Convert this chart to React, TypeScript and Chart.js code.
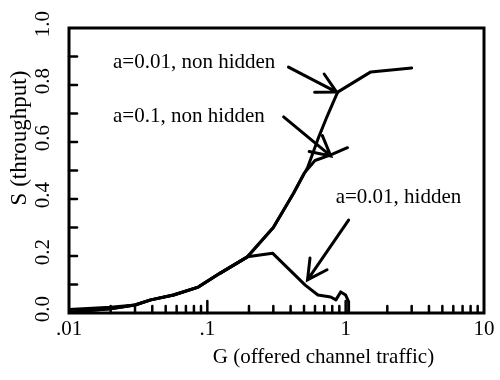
import React, { useEffect, useRef } from "react";
import { Chart, registerables } from "chart.js";

Chart.register(...registerables);

// Offered channel traffic G and throughput S for each curve
const nonHidden001G = [0.01, 0.02, 0.03, 0.039, 0.057, 0.086, 0.124, 0.195, 0.3, 0.42, 0.53, 0.63, 0.72, 0.875, 1.52, 3.0];
const nonHidden001S = [0.003, 0.015, 0.028, 0.046, 0.063, 0.091, 0.14, 0.197, 0.3, 0.42, 0.51, 0.61, 0.68, 0.775, 0.846, 0.86];

const nonHidden01G = [0.01, 0.02, 0.03, 0.039, 0.057, 0.086, 0.124, 0.195, 0.3, 0.42, 0.5, 0.6, 0.78, 1.03];
const nonHidden01S = [0.003, 0.015, 0.028, 0.046, 0.063, 0.091, 0.14, 0.197, 0.3, 0.42, 0.49, 0.535, 0.555, 0.58];

const hidden001G = [0.01, 0.02, 0.03, 0.039, 0.057, 0.086, 0.124, 0.195, 0.296, 0.51, 0.63, 0.78, 0.85, 0.92, 1.0, 1.05, 1.05];
const hidden001S = [0.012, 0.02, 0.028, 0.046, 0.063, 0.091, 0.14, 0.197, 0.21, 0.098, 0.063, 0.056, 0.046, 0.074, 0.063, 0.04, 0.0];

// Axis ticks
const xTickValues = [0.01, 0.1, 1, 10];
const xTickLabels = [".01", ".1", "1", "10"];
const yTickValues = [0, 0.2, 0.4, 0.6, 0.8, 1.0];
const yTickLabels = ["0.0", "0.2", "0.4", "0.6", "0.8", "1.0"];
const yMinorStep = 0.1;

const xTitle = "G (offered channel traffic)";
const yTitle = "S (throughput)";

// Curve labels: text, anchor (G, S) of the text's left baseline
const labelTexts = ["a=0.01, non hidden", "a=0.1, non hidden", "a=0.01, hidden"];
const labelG = [0.0208, 0.0208, 0.847];
const labelS = [0.86, 0.67, 0.386];

// Arrows pointing from the labels to the curves, in (G, S)
const arrowTailG = [0.386, 0.356, 1.05];
const arrowTailS = [0.863, 0.688, 0.326];
const arrowTipG = [0.86, 0.78, 0.53];
const arrowTipS = [0.775, 0.551, 0.116];

const pairs = (xs: number[], ys: number[]) => xs.map((x, i) => ({ x, y: ys[i] }));

const SERIF = '"Liberation Serif", "Times New Roman", serif';

const decorations = {
  id: "decorations",
  afterDraw(chart: any) {
    const { ctx, chartArea, scales } = chart;
    const xs = scales.x;
    const ys = scales.y;
    const { left, right, top, bottom } = chartArea;
    ctx.save();
    ctx.strokeStyle = "#000";
    ctx.fillStyle = "#000";
    ctx.lineCap = "round";

    // frame
    ctx.lineWidth = 3;
    ctx.strokeRect(left, top, right - left, bottom - top);

    // y ticks, pointing inward
    ctx.lineWidth = 2.5;
    for (let v = yMinorStep; v < 1 - 1e-9; v += yMinorStep) {
      const y = ys.getPixelForValue(v);
      ctx.beginPath();
      ctx.moveTo(left, y);
      ctx.lineTo(left + 8, y);
      ctx.stroke();
    }

    // x ticks (log), pointing inward
    for (let d = 0; d < xTickValues.length - 1; d++) {
      const base = xTickValues[d];
      for (let m = 1; m <= 9; m++) {
        if (d === 0 && m === 1) continue;
        const x = xs.getPixelForValue(base * m);
        const len = m === 1 ? 12 : 7;
        ctx.beginPath();
        ctx.moveTo(x, bottom);
        ctx.lineTo(x, bottom - len);
        ctx.stroke();
      }
    }

    // tick labels
    ctx.font = `21px ${SERIF}`;
    ctx.textAlign = "center";
    ctx.textBaseline = "alphabetic";
    xTickValues.forEach((v, i) => {
      ctx.fillText(xTickLabels[i], xs.getPixelForValue(v), bottom + 22);
    });
    yTickValues.forEach((v, i) => {
      const y = ys.getPixelForValue(v);
      ctx.save();
      ctx.translate(left - 26, y - 4);
      ctx.rotate(-Math.PI / 2);
      ctx.textBaseline = "middle";
      ctx.fillText(yTickLabels[i], 0, 0);
      ctx.restore();
    });

    // axis titles
    ctx.font = `21px ${SERIF}`;
    ctx.textBaseline = "alphabetic";
    ctx.fillText(xTitle, (left + right) / 2 + 47, bottom + 50);
    ctx.save();
    ctx.font = `23px ${SERIF}`;
    ctx.translate(left - 49, top + 110);
    ctx.rotate(-Math.PI / 2);
    ctx.textBaseline = "middle";
    ctx.fillText(yTitle, 0, 0);
    ctx.restore();

    // curve labels
    ctx.font = `21px ${SERIF}`;
    ctx.textAlign = "left";
    labelTexts.forEach((t, i) => {
      ctx.fillText(t, xs.getPixelForValue(labelG[i]), ys.getPixelForValue(labelS[i]));
    });

    // arrows
    ctx.lineWidth = 3;
    arrowTipG.forEach((g, i) => {
      const x0 = xs.getPixelForValue(arrowTailG[i]);
      const y0 = ys.getPixelForValue(arrowTailS[i]);
      const x1 = xs.getPixelForValue(g);
      const y1 = ys.getPixelForValue(arrowTipS[i]);
      const ang = Math.atan2(y1 - y0, x1 - x0);
      const head = 22;
      const spread = (28 * Math.PI) / 180;
      ctx.beginPath();
      ctx.moveTo(x0, y0);
      ctx.lineTo(x1, y1);
      ctx.moveTo(x1 - head * Math.cos(ang - spread), y1 - head * Math.sin(ang - spread));
      ctx.lineTo(x1, y1);
      ctx.lineTo(x1 - head * Math.cos(ang + spread), y1 - head * Math.sin(ang + spread));
      ctx.stroke();
    });

    ctx.restore();
  },
};

export default function App() {
  const canvasRef = useRef<HTMLCanvasElement | null>(null);

  useEffect(() => {
    const canvas = canvasRef.current;
    if (!canvas) return;
    const line = (data: { x: number; y: number }[]) => ({
      data,
      borderColor: "#000",
      borderWidth: 3,
      pointRadius: 0,
      tension: 0,
      fill: false,
      borderJoinStyle: "round" as const,
      borderCapStyle: "round" as const,
    });
    const chart = new Chart(canvas, {
      type: "line",
      data: {
        datasets: [
          { label: labelTexts[0], ...line(pairs(nonHidden001G, nonHidden001S)) },
          { label: labelTexts[1], ...line(pairs(nonHidden01G, nonHidden01S)) },
          { label: labelTexts[2], ...line(pairs(hidden001G, hidden001S)) },
        ],
      },
      options: {
        responsive: false,
        animation: false,
        devicePixelRatio: 1,
        layout: { padding: { left: 69, top: 28, right: 16, bottom: 67 } },
        plugins: { legend: { display: false }, tooltip: { enabled: false } },
        scales: {
          x: { type: "logarithmic", min: 0.01, max: 10, display: false },
          y: { type: "linear", min: 0, max: 1, display: false },
        },
      },
      plugins: [decorations],
    });
    return () => chart.destroy();
  }, []);

  return (
    <div style={{ position: "fixed", left: 0, top: 0, width: 500, height: 380, background: "#fff" }}>
      <canvas ref={canvasRef} width={500} height={380} />
    </div>
  );
}
